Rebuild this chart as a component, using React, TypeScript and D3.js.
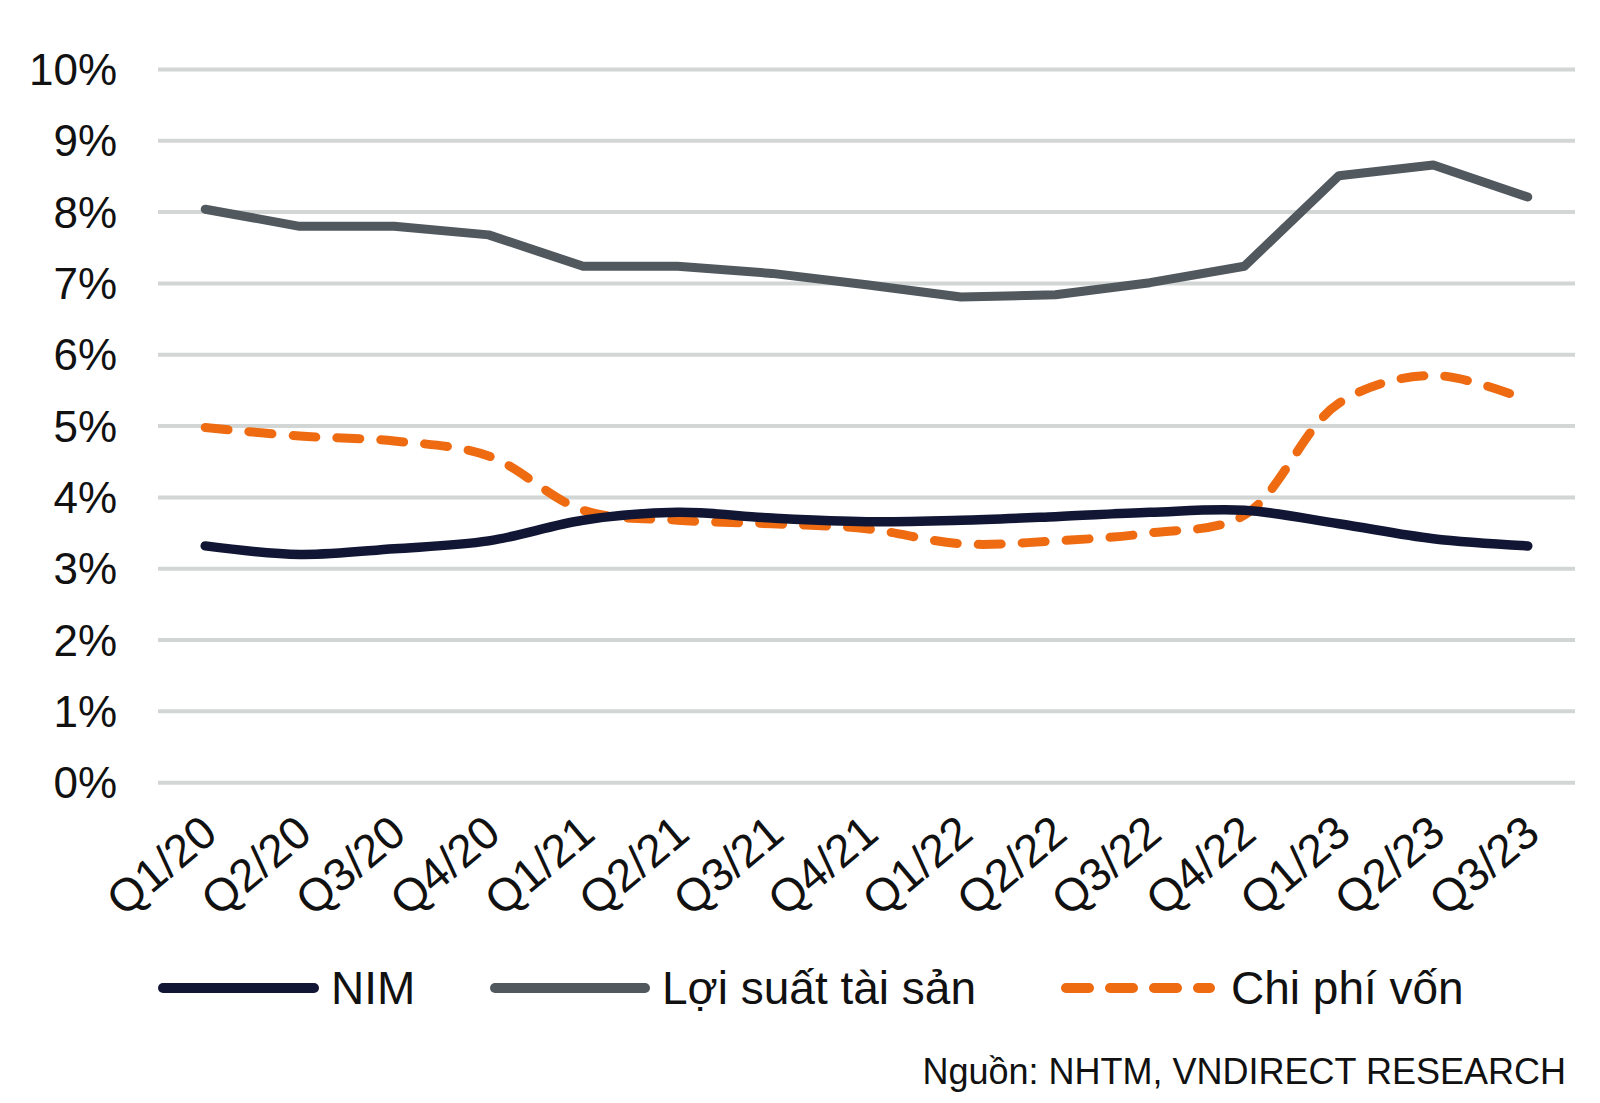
import React from "react";
import * as d3 from "d3";

const categories = ["Q1/20","Q2/20","Q3/20","Q4/20","Q1/21","Q2/21","Q3/21","Q4/21","Q1/22","Q2/22","Q3/22","Q4/22","Q1/23","Q2/23","Q3/23"];
const nim = [3.32,3.2,3.28,3.39,3.68,3.79,3.71,3.66,3.68,3.73,3.79,3.82,3.63,3.42,3.32];
const assetYield = [8.04,7.8,7.8,7.68,7.24,7.24,7.14,6.98,6.81,6.84,7.01,7.24,8.51,8.66,8.21];
const fundingCost = [4.98,4.86,4.79,4.58,3.82,3.68,3.63,3.56,3.35,3.39,3.5,3.75,5.32,5.71,5.36];
const yTicks = [0,1,2,3,4,5,6,7,8,9,10];
const legendLabels = ["NIM","Lợi suất tài sản","Chi phí vốn"];
const sourceText = "Nguồn: NHTM, VNDIRECT RESEARCH";

const W = 1600, H = 1103;
const FONT = "'Liberation Sans', Arial, sans-serif";
const C_NIM = "#111634";
const C_YIELD = "#51585e";
const C_COST = "#ee6b12";
const C_GRID = "#d2d6d5";

export default function App() {
  const x = d3.scalePoint<string>().domain(categories).range([158, 1575]).padding(0.5);
  const y = d3.scaleLinear().domain([0, 10]).range([782.7, 69.4]);

  const smooth = d3.line<number>()
    .x((_, i) => x(categories[i]) as number)
    .y((d) => y(d))
    .curve(d3.curveCatmullRom.alpha(0.5));
  const straight = d3.line<number>()
    .x((_, i) => x(categories[i]) as number)
    .y((d) => y(d));

  const legendY = 988;
  const legend = [
    { label: legendLabels[0], color: C_NIM, x1: 163, x2: 314, tx: 331, dash: undefined },
    { label: legendLabels[1], color: C_YIELD, x1: 495, x2: 645, tx: 662, dash: undefined },
    { label: legendLabels[2], color: C_COST, x1: 1066, x2: 1210, tx: 1231, dash: "23 21" },
  ];

  return (
    <svg width={W} height={H} style={{ position: "absolute", left: 0, top: 0, background: "#fff" }} fontFamily={FONT}>
      <rect width={W} height={H} fill="#fff" />
      {yTicks.map((t) => (
        <g key={t}>
          <line x1={158} x2={1575} y1={y(t)} y2={y(t)} stroke={C_GRID} strokeWidth={4} />
          <text x={117} y={y(t)} textAnchor="end" dominantBaseline="central" fontSize={44} fill="#111">
            {t}%
          </text>
        </g>
      ))}
      {categories.map((c) => {
        const px = (x(c) as number) + 4;
        const py = 825;
        return (
          <text key={c} transform={`translate(${px},${py}) rotate(-40)`} textAnchor="end" dominantBaseline="central" fontSize={46} fill="#111">
            {c}
          </text>
        );
      })}
      <path d={straight(assetYield) || ""} fill="none" stroke={C_YIELD} strokeWidth={9} strokeLinejoin="round" strokeLinecap="round" />
      <path d={smooth(fundingCost) || ""} fill="none" stroke={C_COST} strokeWidth={9} strokeDasharray="23 21" strokeLinecap="round" />
      <path d={smooth(nim) || ""} fill="none" stroke={C_NIM} strokeWidth={9.5} strokeLinecap="round" />
      {legend.map((l) => (
        <g key={l.label}>
          <line x1={l.x1} x2={l.x2} y1={legendY} y2={legendY} stroke={l.color} strokeWidth={10} strokeLinecap="round" strokeDasharray={l.dash} />
          <text x={l.tx} y={legendY} dominantBaseline="central" fontSize={46} fill="#111">{l.label}</text>
        </g>
      ))}
      <text x={1566} y={1071} textAnchor="end" dominantBaseline="central" fontSize={36} fill="#111">{sourceText}</text>
    </svg>
  );
}
